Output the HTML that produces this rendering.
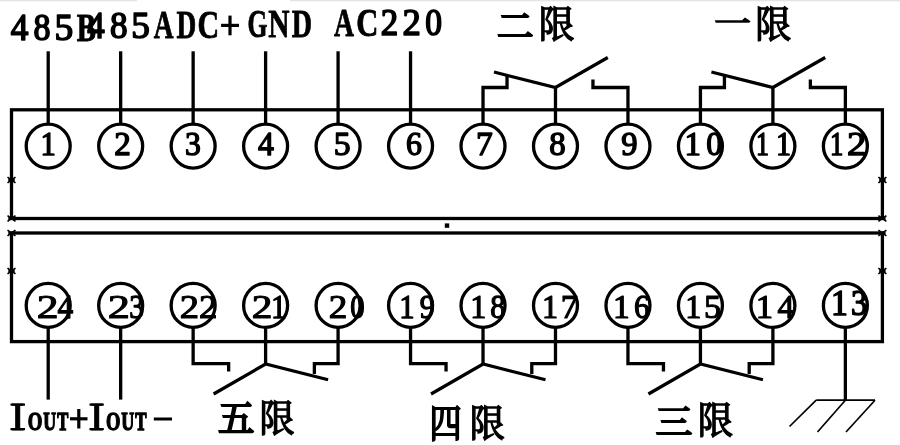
<!DOCTYPE html>
<html lang="zh"><head><meta charset="utf-8"><title>Terminal wiring diagram</title>
<style>html,body{margin:0;padding:0;background:#fff;}body{width:900px;height:445px;overflow:hidden;font-family:"Liberation Serif",serif;}svg{display:block;}.ln{stroke:#000;fill:none;}text{font-family:"Liberation Serif",serif;font-size:100px;fill:#000;stroke-linejoin:round;}text.cjk{font-family:"Liberation Serif","Noto Serif CJK SC",serif;stroke-linejoin:miter;}svg{will-change:transform;filter:grayscale(1);}</style></head><body>
<svg width="900" height="445" viewBox="0 0 900 445">
<rect x="0" y="0" width="900" height="445" fill="#fff"/>
<rect x="0" y="0" width="137" height="1.3" fill="#e4e4e4"/>
<rect x="290" y="0" width="610" height="1.3" fill="#e4e4e4"/>
<g class="ln">
<rect x="11.5" y="109.8" width="870.9" height="108.7" stroke-width="3.3"/>
<rect x="11.5" y="233.0" width="870.9" height="108.6" stroke-width="3.3"/>
<circle cx="48.2" cy="146.1" r="22.0" stroke-width="3.3"/>
<circle cx="48.2" cy="305.4" r="22.0" stroke-width="3.3"/>
<circle cx="120.67" cy="146.1" r="22.0" stroke-width="3.3"/>
<circle cx="120.67" cy="305.4" r="22.0" stroke-width="3.3"/>
<circle cx="193.14" cy="146.1" r="22.0" stroke-width="3.3"/>
<circle cx="193.14" cy="305.4" r="22.0" stroke-width="3.3"/>
<circle cx="265.61" cy="146.1" r="22.0" stroke-width="3.3"/>
<circle cx="265.61" cy="305.4" r="22.0" stroke-width="3.3"/>
<circle cx="338.08" cy="146.1" r="22.0" stroke-width="3.3"/>
<circle cx="338.08" cy="305.4" r="22.0" stroke-width="3.3"/>
<circle cx="410.55" cy="146.1" r="22.0" stroke-width="3.3"/>
<circle cx="410.55" cy="305.4" r="22.0" stroke-width="3.3"/>
<circle cx="483.02" cy="146.1" r="22.0" stroke-width="3.3"/>
<circle cx="483.02" cy="305.4" r="22.0" stroke-width="3.3"/>
<circle cx="555.49" cy="146.1" r="22.0" stroke-width="3.3"/>
<circle cx="555.49" cy="305.4" r="22.0" stroke-width="3.3"/>
<circle cx="627.96" cy="146.1" r="22.0" stroke-width="3.3"/>
<circle cx="627.96" cy="305.4" r="22.0" stroke-width="3.3"/>
<circle cx="700.43" cy="146.1" r="22.0" stroke-width="3.3"/>
<circle cx="700.43" cy="305.4" r="22.0" stroke-width="3.3"/>
<circle cx="772.9" cy="146.1" r="22.0" stroke-width="3.3"/>
<circle cx="772.9" cy="305.4" r="22.0" stroke-width="3.3"/>
<circle cx="845.37" cy="146.1" r="22.0" stroke-width="3.3"/>
<circle cx="845.37" cy="305.4" r="22.0" stroke-width="3.3"/>
<line x1="48.2" y1="51.3" x2="48.2" y2="124.1" stroke-width="3.3" stroke-linecap="butt"/>
<line x1="120.67" y1="51.3" x2="120.67" y2="124.1" stroke-width="3.3" stroke-linecap="butt"/>
<line x1="193.14" y1="51.3" x2="193.14" y2="124.1" stroke-width="3.3" stroke-linecap="butt"/>
<line x1="265.61" y1="51.3" x2="265.61" y2="124.1" stroke-width="3.3" stroke-linecap="butt"/>
<line x1="338.08" y1="51.3" x2="338.08" y2="124.1" stroke-width="3.3" stroke-linecap="butt"/>
<line x1="410.55" y1="51.3" x2="410.55" y2="124.1" stroke-width="3.3" stroke-linecap="butt"/>
<polyline points="483.02,124.1 483.02,87.5 507.02,87.5 507.02,75.5" stroke-width="3.3" stroke-linejoin="miter" stroke-linecap="butt"/>
<line x1="555.49" y1="124.1" x2="555.49" y2="87.5" stroke-width="3.3" stroke-linecap="butt"/>
<polyline points="493.99,72 555.49,87.5 607.79,57.5" stroke-width="3.2" stroke-linejoin="miter" stroke-linecap="butt"/>
<polyline points="627.96,124.1 627.96,87.5 592.96,87.5 592.96,79.5" stroke-width="3.3" stroke-linejoin="miter" stroke-linecap="butt"/>
<polyline points="700.43,124.1 700.43,87.5 724.43,87.5 724.43,75.5" stroke-width="3.3" stroke-linejoin="miter" stroke-linecap="butt"/>
<line x1="772.9" y1="124.1" x2="772.9" y2="87.5" stroke-width="3.3" stroke-linecap="butt"/>
<polyline points="711.4,72 772.9,87.5 825.2,57.5" stroke-width="3.2" stroke-linejoin="miter" stroke-linecap="butt"/>
<polyline points="845.37,124.1 845.37,87.5 810.37,87.5 810.37,79.5" stroke-width="3.3" stroke-linejoin="miter" stroke-linecap="butt"/>
<line x1="48.2" y1="327.4" x2="48.2" y2="399.6" stroke-width="3.3" stroke-linecap="butt"/>
<line x1="120.67" y1="327.4" x2="120.67" y2="399.6" stroke-width="3.3" stroke-linecap="butt"/>
<polyline points="193.14,327.4 193.14,363.6 228.64,363.6 228.64,371.5" stroke-width="3.3" stroke-linejoin="miter" stroke-linecap="butt"/>
<line x1="265.61" y1="327.4" x2="265.61" y2="364" stroke-width="3.3" stroke-linecap="butt"/>
<polyline points="213.61,394 265.61,364 328.11,379.8" stroke-width="3.2" stroke-linejoin="miter" stroke-linecap="butt"/>
<polyline points="338.08,327.4 338.08,363.6 314.38,363.6 314.38,374" stroke-width="3.3" stroke-linejoin="miter" stroke-linecap="butt"/>
<polyline points="410.55,327.4 410.55,363.6 446.05,363.6 446.05,371.5" stroke-width="3.3" stroke-linejoin="miter" stroke-linecap="butt"/>
<line x1="483.02" y1="327.4" x2="483.02" y2="364" stroke-width="3.3" stroke-linecap="butt"/>
<polyline points="431.02,394 483.02,364 545.52,379.8" stroke-width="3.2" stroke-linejoin="miter" stroke-linecap="butt"/>
<polyline points="555.49,327.4 555.49,363.6 531.79,363.6 531.79,374" stroke-width="3.3" stroke-linejoin="miter" stroke-linecap="butt"/>
<polyline points="627.96,327.4 627.96,363.6 663.46,363.6 663.46,371.5" stroke-width="3.3" stroke-linejoin="miter" stroke-linecap="butt"/>
<line x1="700.43" y1="327.4" x2="700.43" y2="364" stroke-width="3.3" stroke-linecap="butt"/>
<polyline points="648.43,394 700.43,364 762.93,379.8" stroke-width="3.2" stroke-linejoin="miter" stroke-linecap="butt"/>
<polyline points="772.9,327.4 772.9,363.6 749.2,363.6 749.2,374" stroke-width="3.3" stroke-linejoin="miter" stroke-linecap="butt"/>
<line x1="845.37" y1="327.4" x2="845.37" y2="400" stroke-width="3.3" stroke-linecap="butt"/>
<line x1="816.2" y1="400.2" x2="875" y2="400.2" stroke-width="1.7" stroke-linecap="butt"/>
<line x1="816.2" y1="400.2" x2="789.5" y2="426.5" stroke-width="1.7" stroke-linecap="butt"/>
<line x1="845.37" y1="400.2" x2="817.5" y2="432" stroke-width="1.7" stroke-linecap="butt"/>
<line x1="875" y1="400.2" x2="846" y2="432" stroke-width="1.7" stroke-linecap="butt"/>
</g>
<rect x="444.8" y="223.4" width="4.4" height="4.4" fill="#000"/>
<path d="M7.5 177.1L15.5 182.9M7.5 182.9L15.5 177.1" stroke="#000" stroke-width="1.7" fill="none"/>
<path d="M8.3 180L14.7 180" stroke="#000" stroke-width="2.8" fill="none"/>
<path d="M7.5 215.6L15.5 221.4M7.5 221.4L15.5 215.6" stroke="#000" stroke-width="1.7" fill="none"/>
<path d="M8.3 218.5L14.7 218.5" stroke="#000" stroke-width="2.8" fill="none"/>
<path d="M7.5 230.1L15.5 235.9M7.5 235.9L15.5 230.1" stroke="#000" stroke-width="1.7" fill="none"/>
<path d="M8.3 233L14.7 233" stroke="#000" stroke-width="2.8" fill="none"/>
<path d="M7.5 268.1L15.5 273.9M7.5 273.9L15.5 268.1" stroke="#000" stroke-width="1.7" fill="none"/>
<path d="M8.3 271L14.7 271" stroke="#000" stroke-width="2.8" fill="none"/>
<path d="M878.4 177.1L886.4 182.9M878.4 182.9L886.4 177.1" stroke="#000" stroke-width="1.7" fill="none"/>
<path d="M879.2 180L885.6 180" stroke="#000" stroke-width="2.8" fill="none"/>
<path d="M878.4 215.6L886.4 221.4M878.4 221.4L886.4 215.6" stroke="#000" stroke-width="1.7" fill="none"/>
<path d="M879.2 218.5L885.6 218.5" stroke="#000" stroke-width="2.8" fill="none"/>
<path d="M878.4 230.1L886.4 235.9M878.4 235.9L886.4 230.1" stroke="#000" stroke-width="1.7" fill="none"/>
<path d="M879.2 233L885.6 233" stroke="#000" stroke-width="2.8" fill="none"/>
<path d="M878.4 268.1L886.4 273.9M878.4 273.9L886.4 268.1" stroke="#000" stroke-width="1.7" fill="none"/>
<path d="M879.2 271L885.6 271" stroke="#000" stroke-width="2.8" fill="none"/>
<g>
<text transform="matrix(0.3528 0 0 0.3788 10.81 40.20)" stroke="#000" stroke-width="4.37">4</text>
<text transform="matrix(0.3398 0 0 0.3788 33.51 40.20)" stroke="#000" stroke-width="4.45">8</text>
<text transform="matrix(0.3748 0 0 0.3788 54.62 40.20)" stroke="#000" stroke-width="4.25">5</text>
<text transform="matrix(0.2891 0 0 0.3925 76.67 40.65)" font-weight="bold" stroke="#000" stroke-width="2.05">B</text>
<text transform="matrix(0.3485 0 0 0.3788 87.32 37.80)" stroke="#000" stroke-width="4.4">4</text>
<text transform="matrix(0.3516 0 0 0.3788 109.96 37.80)" stroke="#000" stroke-width="4.38">8</text>
<text transform="matrix(0.3724 0 0 0.3788 131.34 37.80)" stroke="#000" stroke-width="4.26">5</text>
<text transform="matrix(0.2737 0 0 0.3925 153.78 38.25)" font-weight="bold" stroke="#000" stroke-width="2.1">A</text>
<text transform="matrix(0.2730 0 0 0.3925 176.57 38.25)" font-weight="bold" stroke="#000" stroke-width="2.1">D</text>
<text transform="matrix(0.2997 0 0 0.3925 197.49 38.25)" font-weight="bold" stroke="#000" stroke-width="2.02">C</text>
<text transform="matrix(0.2565 0 0 0.3986 247.40 37.35)" font-weight="bold" stroke="#000" stroke-width="2.14">G</text>
<text transform="matrix(0.2942 0 0 0.3986 268.29 37.35)" font-weight="bold" stroke="#000" stroke-width="2.02">N</text>
<text transform="matrix(0.2806 0 0 0.3986 291.76 37.35)" font-weight="bold" stroke="#000" stroke-width="2.06">D</text>
<text transform="matrix(0.2766 0 0 0.4032 334.08 35.75)" font-weight="bold" stroke="#000" stroke-width="2.06">A</text>
<text transform="matrix(0.3064 0 0 0.4032 356.15 35.75)" font-weight="bold" stroke="#000" stroke-width="1.97">C</text>
<text transform="matrix(0.3492 0 0 0.3894 380.67 35.30)" stroke="#000" stroke-width="4.33">2</text>
<text transform="matrix(0.3667 0 0 0.3894 402.39 35.30)" stroke="#000" stroke-width="4.23">2</text>
<text transform="matrix(0.3350 0 0 0.3894 425.32 35.30)" stroke="#000" stroke-width="4.42">0</text>
<g class="ln">
<line x1="221.1" y1="25.4" x2="239" y2="25.4" stroke-width="3.2" stroke-linecap="butt"/>
<line x1="230" y1="15.6" x2="230" y2="35.3" stroke-width="3.2" stroke-linecap="butt"/>
<line x1="70" y1="418.8" x2="87.5" y2="418.8" stroke-width="3.2" stroke-linecap="butt"/>
<line x1="78.8" y1="409" x2="78.8" y2="428.5" stroke-width="3.2" stroke-linecap="butt"/>
<line x1="153.8" y1="419" x2="172" y2="419" stroke-width="3" stroke-linecap="butt"/>
</g>
<text transform="matrix(0.4165 0 0 0.3910 10.80 429.65)" stroke="#000" stroke-width="2.72">I</text>
<g class="ln">
<line x1="10.5" y1="404.6" x2="25" y2="404.6" stroke-width="2.2" stroke-linecap="butt"/>
<line x1="10.5" y1="429.1" x2="25" y2="429.1" stroke-width="2.2" stroke-linecap="butt"/>
</g>
<text transform="matrix(0.1882 0 0 0.2596 27.68 429.60)" font-weight="bold" stroke="#000" stroke-width="5.36">O</text>
<text transform="matrix(0.1785 0 0 0.2596 43.16 429.60)" font-weight="bold" stroke="#000" stroke-width="5.48">U</text>
<text transform="matrix(0.1666 0 0 0.2596 57.34 429.60)" font-weight="bold" stroke="#000" stroke-width="5.63">T</text>
<text transform="matrix(0.4165 0 0 0.3910 89.70 429.65)" stroke="#000" stroke-width="2.72">I</text>
<g class="ln">
<line x1="89.5" y1="404.6" x2="103.8" y2="404.6" stroke-width="2.2" stroke-linecap="butt"/>
<line x1="89.5" y1="429.1" x2="103.8" y2="429.1" stroke-width="2.2" stroke-linecap="butt"/>
</g>
<text transform="matrix(0.1852 0 0 0.2596 105.90 429.60)" font-weight="bold" stroke="#000" stroke-width="5.39">O</text>
<text transform="matrix(0.1800 0 0 0.2596 121.35 429.60)" font-weight="bold" stroke="#000" stroke-width="5.46">U</text>
<text transform="matrix(0.1697 0 0 0.2596 135.33 429.60)" font-weight="bold" stroke="#000" stroke-width="5.59">T</text>
</g>
<g>
<text transform="matrix(0.3068 0 0 0.3345 40.50 155.10)" stroke="#000" stroke-width="4.37">1</text>
<text transform="matrix(0.3318 0 0 0.3345 114.24 155.10)" stroke="#000" stroke-width="4.2">2</text>
<text transform="matrix(0.3171 0 0 0.3345 184.98 155.10)" stroke="#000" stroke-width="4.3">3</text>
<text transform="matrix(0.3184 0 0 0.3345 258.08 155.10)" stroke="#000" stroke-width="4.29">4</text>
<text transform="matrix(0.3376 0 0 0.3345 333.74 155.10)" stroke="#000" stroke-width="4.17">5</text>
<text transform="matrix(0.3183 0 0 0.3345 406.03 155.10)" stroke="#000" stroke-width="4.29">6</text>
<text transform="matrix(0.3356 0 0 0.3345 475.99 155.10)" stroke="#000" stroke-width="4.18">7</text>
<text transform="matrix(0.3280 0 0 0.3345 549.15 155.10)" stroke="#000" stroke-width="4.23">8</text>
<text transform="matrix(0.3257 0 0 0.3345 621.35 155.10)" stroke="#000" stroke-width="4.24">9</text>
<text transform="matrix(0.3295 0 0 0.3345 684.50 155.10)" stroke="#000" stroke-width="4.22">1</text>
<text transform="matrix(0.3209 0 0 0.3345 706.18 155.10)" stroke="#000" stroke-width="4.27">0</text>
<text transform="matrix(0.2585 0 0 0.3345 755.93 155.10)" stroke="#000" stroke-width="4.72">1</text>
<text transform="matrix(0.3011 0 0 0.3345 776.05 155.10)" stroke="#000" stroke-width="4.41">1</text>
<text transform="matrix(0.2670 0 0 0.3345 830.05 155.10)" stroke="#000" stroke-width="4.66">1</text>
<text transform="matrix(0.3891 0 0 0.3345 846.99 155.10)" stroke="#000" stroke-width="3.87">2</text>
<text transform="matrix(0.4365 0 0 0.3421 36.68 317.70)" stroke="#000" stroke-width="3.08">2</text>
<text transform="matrix(0.3141 0 0 0.3421 57.49 317.70)" stroke="#000" stroke-width="3.66">4</text>
<text transform="matrix(0.4440 0 0 0.3421 107.65 317.70)" stroke="#000" stroke-width="3.05">2</text>
<text transform="matrix(0.2978 0 0 0.3421 129.18 317.70)" stroke="#000" stroke-width="3.75">3</text>
<text transform="matrix(0.3867 0 0 0.3421 179.70 317.70)" stroke="#000" stroke-width="3.29">2</text>
<text transform="matrix(0.3692 0 0 0.3421 198.98 317.70)" stroke="#000" stroke-width="3.37">2</text>
<text transform="matrix(0.4141 0 0 0.3421 251.78 317.70)" stroke="#000" stroke-width="3.17">2</text>
<text transform="matrix(0.3068 0 0 0.3421 270.90 317.70)" stroke="#000" stroke-width="3.7">1</text>
<text transform="matrix(0.3717 0 0 0.3421 328.67 317.70)" stroke="#000" stroke-width="3.36">2</text>
<text transform="matrix(0.2879 0 0 0.3421 350.30 317.70)" stroke="#000" stroke-width="3.81">0</text>
<text transform="matrix(0.3068 0 0 0.3421 399.20 317.70)" stroke="#000" stroke-width="3.7">1</text>
<text transform="matrix(0.2999 0 0 0.3421 419.63 317.70)" stroke="#000" stroke-width="3.74">9</text>
<text transform="matrix(0.3210 0 0 0.3421 470.28 317.70)" stroke="#000" stroke-width="3.62">1</text>
<text transform="matrix(0.3067 0 0 0.3421 490.23 317.70)" stroke="#000" stroke-width="3.7">8</text>
<text transform="matrix(0.3210 0 0 0.3421 541.98 317.70)" stroke="#000" stroke-width="3.62">1</text>
<text transform="matrix(0.3405 0 0 0.3421 560.86 317.70)" stroke="#000" stroke-width="3.52">7</text>
<text transform="matrix(0.3352 0 0 0.3421 612.95 317.70)" stroke="#000" stroke-width="3.54">1</text>
<text transform="matrix(0.3113 0 0 0.3421 633.96 317.70)" stroke="#000" stroke-width="3.67">6</text>
<text transform="matrix(0.3210 0 0 0.3421 685.28 317.70)" stroke="#000" stroke-width="3.62">1</text>
<text transform="matrix(0.3426 0 0 0.3421 703.91 317.70)" stroke="#000" stroke-width="3.51">5</text>
<text transform="matrix(0.3465 0 0 0.3421 755.85 317.70)" stroke="#000" stroke-width="3.49">1</text>
<text transform="matrix(0.3334 0 0 0.3421 777.45 317.70)" stroke="#000" stroke-width="3.55">4</text>
<text transform="matrix(0.3380 0 0 0.3513 831.08 314.55)" stroke="#000" stroke-width="4.35">1</text>
<text transform="matrix(0.3268 0 0 0.3513 850.89 314.55)" stroke="#000" stroke-width="4.42">3</text>
</g>
<g fill="#000">
<text class="cjk" transform="matrix(0.3655 0 0 0.3338 497.05 38.00)" stroke="#000" stroke-width="6.29">二</text>
<text class="cjk" transform="matrix(0.3577 0 0 0.3740 538.87 37.76)" stroke="#000" stroke-width="3.83">限</text>
<text class="cjk" transform="matrix(0.3628 0 0 0.2805 714.55 34.43)" stroke="#000" stroke-width="6.22">一</text>
<text class="cjk" transform="matrix(0.3611 0 0 0.3740 755.24 37.76)" stroke="#000" stroke-width="3.81">限</text>
<text class="cjk" transform="matrix(0.3648 0 0 0.3722 218.12 432.09)" stroke="#000" stroke-width="5.43">五</text>
<text class="cjk" transform="matrix(0.3510 0 0 0.3740 259.52 432.16)" stroke="#000" stroke-width="3.86">限</text>
<text class="cjk" transform="matrix(0.3215 0 0 0.3830 429.52 436.65)" stroke="#000" stroke-width="5.11">四</text>
<text class="cjk" transform="matrix(0.3510 0 0 0.3718 469.72 436.68)" stroke="#000" stroke-width="3.87">限</text>
<text class="cjk" transform="matrix(0.3690 0 0 0.3358 655.58 434.29)" stroke="#000" stroke-width="5.39">三</text>
<text class="cjk" transform="matrix(0.3543 0 0 0.3718 697.79 434.48)" stroke="#000" stroke-width="3.86">限</text>
</g>
</svg></body></html>
